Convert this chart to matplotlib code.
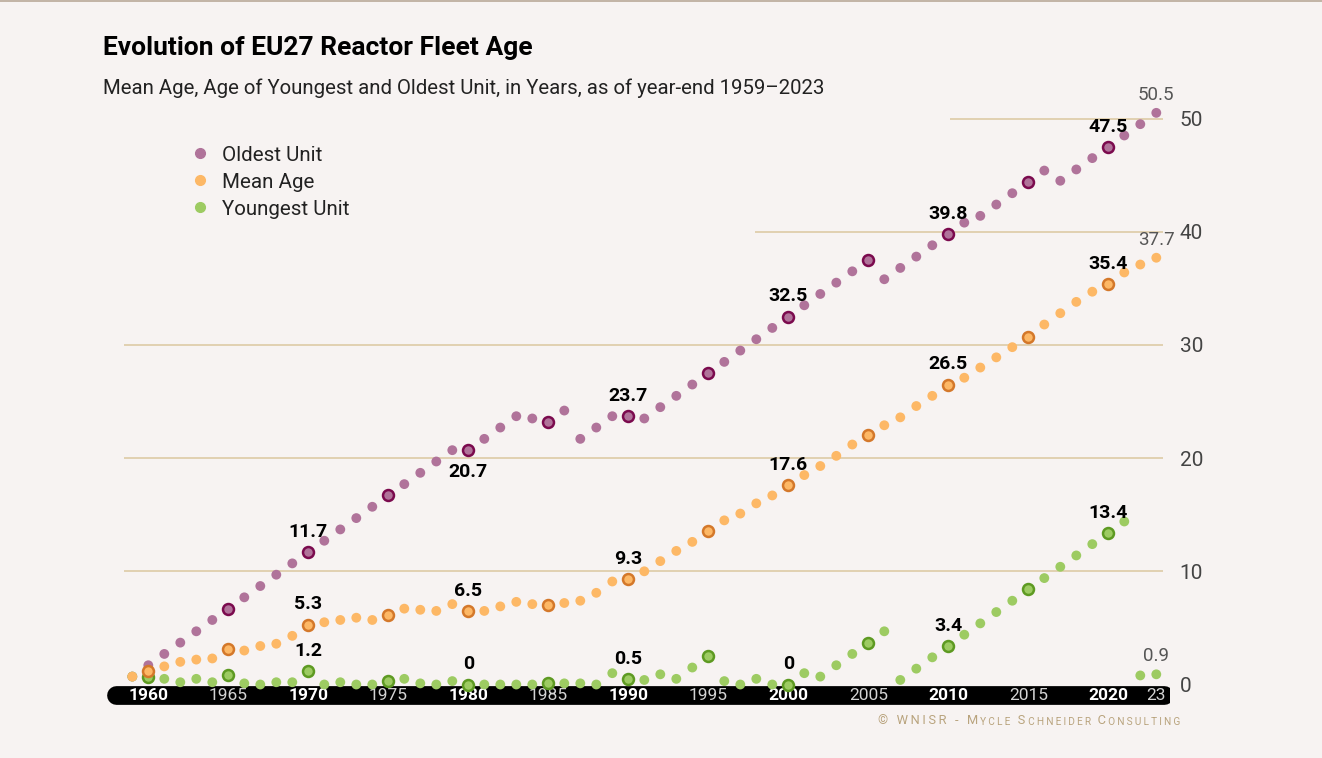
import matplotlib
matplotlib.use("Agg")
import matplotlib.pyplot as plt
from matplotlib.lines import Line2D

FONT = ['Roboto', 'DejaVu Sans']
plt.rcParams['font.family'] = FONT

# ---- data ----
years = list(range(1959, 2024))
oldest = [0.7, 1.7, 2.7, 3.7, 4.7, 5.7, 6.7, 7.7, 8.7, 9.7, 10.7, 11.7, 12.7, 13.7, 14.7,
          15.7, 16.7, 17.7, 18.7, 19.7, 20.7, 20.7, 21.7, 22.7, 23.7, 23.5, 23.2, 24.2, 21.7,
          22.7, 23.7, 23.7, 23.5, 24.5, 25.5, 26.5, 27.5, 28.5, 29.5, 30.5, 31.5, 32.5, 33.5,
          34.5, 35.5, 36.5, 37.5, 35.8, 36.8, 37.8, 38.8, 39.8, 40.8, 41.4, 42.4, 43.4, 44.4,
          45.4, 44.5, 45.5, 46.5, 47.5, 48.5, 49.5, 50.5]
mean_age = [0.7, 1.2, 1.6, 2.0, 2.2, 2.3, 3.1, 3.0, 3.4, 3.6, 4.3, 5.3, 5.5, 5.7, 5.9,
            5.7, 6.1, 6.7, 6.6, 6.5, 7.1, 6.5, 6.5, 6.9, 7.3, 7.1, 7.0, 7.2, 7.4, 8.1, 9.1,
            9.3, 10.0, 10.9, 11.8, 12.6, 13.6, 14.5, 15.1, 16.0, 16.7, 17.6, 18.5, 19.3, 20.2,
            21.2, 22.0, 22.9, 23.6, 24.6, 25.5, 26.5, 27.1, 28.0, 28.9, 29.8, 30.7, 31.8, 32.8,
            33.8, 34.7, 35.4, 36.4, 37.1, 37.7]
youngest = [0.7, 0.7, 0.5, 0.2, 0.5, 0.2, 0.8, 0.1, 0.0, 0.2, 0.2, 1.2, 0.0, 0.2, 0.0,
            0.0, 0.3, 0.5, 0.1, 0.0, 0.3, 0.0, 0.0, 0.0, 0.0, 0.0, 0.1, 0.1, 0.1, 0.0, 1.0,
            0.5, 0.4, 0.9, 0.5, 1.5, 2.5, 0.3, 0.0, 0.5, 0.0, 0.0, 1.0, 0.7, 1.7, 2.7, 3.7,
            4.7, 0.4, 1.4, 2.4, 3.4, 4.4, 5.4, 6.4, 7.4, 8.4, 9.4, 10.4, 11.4, 12.4, 13.4,
            14.4, 0.8, 0.9]
labeled_years = [1970, 1980, 1990, 2000, 2010, 2020]
tick_years = [1960, 1965, 1970, 1975, 1980, 1985, 1990, 1995, 2000, 2005, 2010, 2015, 2020, 2023]
tick_labels = ['1960', '1965', '1970', '1975', '1980', '1985', '1990', '1995', '2000',
               '2005', '2010', '2015', '2020', '23']
y_ticks = [0, 10, 20, 30, 40, 50]

# colours
BG = '#f7f3f2'
GRID = '#ddcba6'
series = [
    # name, values, dot colour, ring colour, ring years start, label below?
    ('Oldest Unit', oldest, '#b0739a', '#7b0a4e', 1965, [1980]),
    ('Youngest Unit', youngest, '#9dcb62', '#5e9a22', 1960, []),
    ('Mean Age', mean_age, '#fdb866', '#d4782a', 1960, []),
]

W, H = 1322, 758
fig = plt.figure(figsize=(W / 100, H / 100), dpi=100, facecolor=BG)
ax = fig.add_axes([100 / W, 1 - 720 / H, 1070 / W, 640 / H])
ax.set_facecolor(BG)

# pixel <-> data helpers (x: 16 px per year, y: 11.32 px per unit)
def px_x(px):
    return 1960 + (px - 148.3) / 16.0

def px_y(py):
    return (684.5 - py) / 11.32

ax.set_xlim(px_x(100), px_x(1170))
ax.set_ylim(px_y(720), px_y(80))
for s in ax.spines.values():
    s.set_visible(False)

# grid lines (upper ones shortened like in the original)
grid_start = {10: px_x(124), 20: px_x(124), 30: px_x(124), 40: px_x(755), 50: px_x(950)}
for v in y_ticks[1:]:
    ax.hlines(v, grid_start[v], px_x(1163), color=GRID, lw=1.2, zorder=1)

ax.yaxis.tick_right()
ax.set_yticks(y_ticks)
ax.set_yticklabels([str(v) for v in y_ticks], fontsize=15, color='#444444')
ax.tick_params(axis='y', length=0, pad=7)
ax.set_xticks([])

# black year bar
bar_y = px_y(695)
ax.plot([px_x(116), px_x(1164)], [bar_y, bar_y], color='black', lw=13.5,
        solid_capstyle='round', zorder=2)
for yr, lab in zip(tick_years, tick_labels):
    bold = yr % 10 == 0
    ax.text(yr, bar_y, lab, ha='center', va='center', fontsize=12.5,
            color='white' if bold else '#d4d4d4',
            fontweight='bold' if bold else 'normal', zorder=3)

# points
z = 4
for name, vals, col, ring, ring_from, below in series:
    ax.scatter(years, vals, s=50, color=col, edgecolors='none', zorder=z)
    ring_x = [y for y in years if y % 5 == 0 and ring_from <= y <= 2020]
    ring_v = [vals[years.index(y)] for y in ring_x]
    ax.scatter(ring_x, ring_v, s=62, facecolor=col, edgecolors=ring, linewidths=1.8,
               zorder=z + 0.5)
    for yr in labeled_years:
        v = vals[years.index(yr)]
        off = -15.5 if yr in below else 14.5
        ax.annotate(f'{v:g}', (yr, v), xytext=(0, off), textcoords='offset points',
                    ha='center', va='center', fontsize=14, fontweight='bold',
                    color='black', zorder=10)
    v = vals[-1]
    ax.annotate(f'{v:g}', (years[-1], v), xytext=(0, 13), textcoords='offset points',
                ha='center', va='center', fontsize=13.5, color='#555555', zorder=10)
    z += 1

# legend (dot + text)
legend_items = [('Oldest Unit', '#b0739a'), ('Mean Age', '#fdb866'),
                ('Youngest Unit', '#9dcb62')]
for i, (name, col) in enumerate(legend_items):
    yy = 153 + 27 * i
    fig.add_artist(Line2D([200 / W], [1 - yy / H], marker='o', markersize=7,
                          color=col, linestyle='none'))
    fig.text(222 / W, 1 - (yy + 8) / H, name, fontsize=14.8, color='#222222',
             ha='left', va='baseline')

# titles
fig.text(103 / W, 1 - 55 / H, 'Evolution of EU27 Reactor Fleet Age', fontsize=19,
         fontweight='bold', color='black', ha='left', va='baseline')
fig.text(103 / W, 1 - 94 / H,
         'Mean Age, Age of Youngest and Oldest Unit, in Years, as of year-end 1959\u20132023',
         fontsize=14.7, color='#222222', ha='left', va='baseline')

# footer in letter-spaced small caps
def spaced(s):
    return '\u2009'.join(s)

pieces = [(spaced('\u00a9 WNISR - M'), 9.3), (spaced('YCLE '), 7.3), (spaced('S'), 9.3),
          (spaced('CHNEIDER '), 7.3), (spaced('C'), 9.3), (spaced('ONSULTING'), 7.3)]
prev = fig.text(878 / W, 1 - 724 / H, pieces[0][0], fontsize=pieces[0][1],
                color='#b9a47e', ha='left', va='baseline')
for txt, fs in pieces[1:]:
    prev = ax.annotate('\u2009' + txt, xy=(1, 0), xycoords=prev, ha='left', va='bottom',
                       fontsize=fs, color='#b9a47e', annotation_clip=False)

# thin rule at the very top
fig.add_artist(Line2D([0, 1], [1 - 1 / H, 1 - 1 / H], color='#b9a999', lw=1.2))

fig.savefig('out.png', dpi=100, facecolor=BG)
